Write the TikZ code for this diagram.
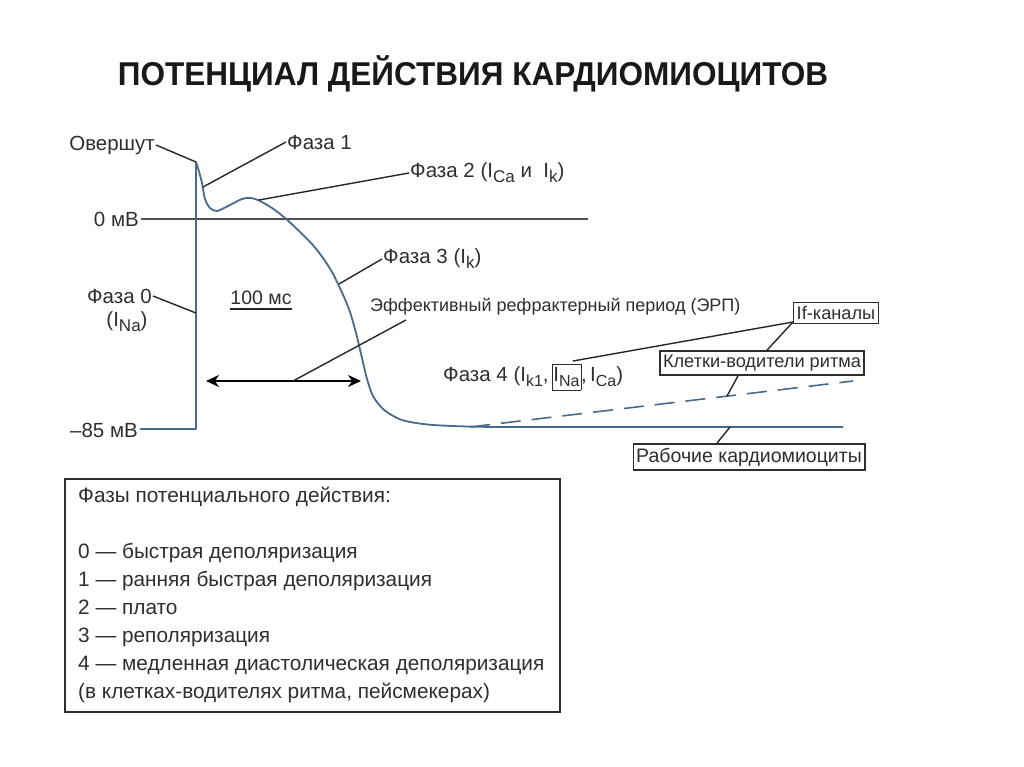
\documentclass[tikz,border=0pt]{standalone}
\usepackage{fontspec}
\setmainfont{Liberation Sans}
\usetikzlibrary{arrows.meta}
\definecolor{curvecol}{HTML}{4A6A8C}
\definecolor{txt}{HTML}{2E2E2E}
\definecolor{zeroline}{HTML}{505050}
\newcommand\lsub[1]{\raisebox{-5pt}{\fontsize{17}{17}\selectfont #1}}
\newcommand\ssub[1]{\raisebox{-5pt}{\fontsize{16}{16}\selectfont #1}}
\begin{document}
\begin{tikzpicture}[x=1pt,y=-1pt,
  lbl/.style={inner sep=1pt,text=txt,font=\fontsize{20.5}{23}\selectfont},
  boxlbl/.style={draw=txt,line width=1.4pt,inner xsep=3pt,inner ysep=4pt,text=txt,font=\fontsize{18.2}{21}\selectfont},
  leader/.style={draw=black!85,line width=1.4pt},
  apcurve/.style={draw=curvecol,line width=1.8pt}]
\useasboundingbox (0,0) rectangle (1024,767);
% title
\node[inner sep=0pt,font=\bfseries\fontsize{33}{36}\selectfont,text=black!90] (title) at (473,74) {\scalebox{0.956}[1]{ПОТЕНЦИАЛ ДЕЙСТВИЯ КАРДИОМИОЦИТОВ}};
% zero line
\coordinate (z0) at (141,219);
\coordinate (z1) at (588,219);
\draw[draw=zeroline,line width=1.8pt] (z0) -- (z1);
% action potential curve
\coordinate (base0) at (140,429);
\coordinate (foot) at (196,429);
\coordinate (peak) at (196,162);
\coordinate (ph1) at (203,187);
\coordinate (ph2) at (259,200);
\coordinate (ph3) at (339,284);
\coordinate (ph0) at (196,313);
\coordinate (rest) at (470,427);
\coordinate (restend) at (843,427);
\draw[apcurve,line join=round] (base0) -- (foot) -- (peak)
  plot[smooth,tension=0.5] coordinates {(196,162) (198,168) (202,183) (205,199) (210,208) (217,211) (228,206) (242,199) (250,198) (258,200) (272,208) (285,218) (298,230) (312,244) (323,258) (332,272) (338,284) (344,297) (350,312) (356,333) (362,358) (367,379) (373,396) (383,409) (397,418) (410,422) (433,425) (467,426.5) (495,427)}
  -- (restend);
\coordinate (dashend) at (853,381);
\draw[apcurve,line width=1.6pt,dash pattern=on 20pt off 11pt] (rest) -- (dashend);
% labels
\node[lbl,anchor=east] (ov) at (156,145) {Овершут};
\draw[leader] (ov.east) -- (peak);
\node[lbl,anchor=west] (f1) at (286,142) {Фаза 1};
\draw[leader] (ph1) -- (f1.west);
\node[lbl,anchor=west] (f2) at (409,173) {Фаза 2 (I\lsub{Ca} и~ I\lsub{k})};
\draw[leader] (ph2) -- (f2.west);
\node[lbl,anchor=east] (zmv) at (140,219) {0 мВ};
\node[lbl,anchor=west] (f3) at (382,259) {Фаза 3 (I\lsub{k})};
\draw[leader] (ph3) -- (f3.west);
\node[lbl,anchor=east] (f0) at (153,296) {Фаза 0};
\node[lbl] (f0b) at (127,322) {(I\lsub{Na})};
\draw[leader] (f0.east) -- (ph0);
\node[lbl,anchor=east] (m85) at (139,430) {–85 мВ};
\node[lbl,inner sep=0pt,font=\fontsize{19.5}{22}\selectfont] (ms) at (261,298) {100 мс};
\draw[leader,line width=1.6pt] ([yshift=-4pt]ms.south west) -- ([yshift=-4pt]ms.south east);
\node[lbl,anchor=west,font=\fontsize{18}{21}\selectfont] (erp) at (369,307) {Эффективный рефрактерный период (ЭРП)};
\coordinate (arL) at (206,381);
\coordinate (arR) at (361,381);
\coordinate (arM) at (293,381);
\draw[black,line width=2.2pt,{Stealth[length=13pt,width=12pt]}-{Stealth[length=13pt,width=12pt]}] (arL) -- (arR);
\coordinate (erpend) at (406,320);
\draw[leader] (arM) -- (erpend);
\node[lbl,anchor=west] (f4) at (442,377) {Фаза 4 (I\ssub{k1},\,\fcolorbox{txt}{white}{\rule{0pt}{15pt}\hspace{-2pt}I\ssub{Na}\hspace{-2pt}},\,I\ssub{Ca})};
\coordinate (natop) at (573,361);
% boxes
\node[boxlbl] (ifk) at (836,313) {If-каналы};
\node[boxlbl] (pace) at (762,363) {Клетки-водители ритма};
\node[boxlbl,font=\fontsize{19.5}{22}\selectfont] (work) at (749,457) {Рабочие кардиомиоциты};
\coordinate (ifp) at (793,322);
\draw[leader] (ifp) -- (natop);
\draw[leader] (ifp) -- (pace.north -| 767,0);
\coordinate (dashpt) at (727,396);
\draw[leader] ([xshift=-24pt]pace.south) -- (dashpt);
\coordinate (restpt) at (730,427);
\draw[leader] ([xshift=-32pt]work.north) -- (restpt);
% legend
\node[draw=txt,line width=1.4pt,minimum width=495pt,minimum height=233pt,inner sep=0pt] (leg) at (312.5,595.5) {};
\node[anchor=north west,inner sep=0pt,text=txt,align=left,font=\fontsize{20.8}{28}\selectfont] (legtxt) at (78,487) {Фазы потенциального действия:\\[28pt]
0 — быстрая деполяризация\\
1 — ранняя быстрая деполяризация\\
2 — плато\\
3 — реполяризация\\
4 — медленная диастолическая деполяризация\\
(в клетках-водителях ритма, пейсмекерах)};
\end{tikzpicture}
\end{document}
